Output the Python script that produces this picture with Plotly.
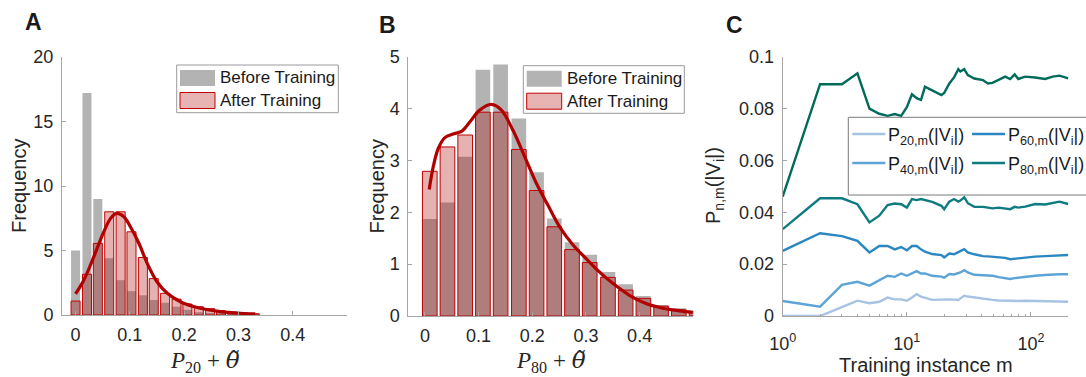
import plotly.graph_objects as go

W, H = 1086, 377

# ---------------- Panel A data ----------------
a_centers = [0.0, 0.021, 0.041, 0.062, 0.083, 0.103, 0.124, 0.144, 0.165, 0.186,
             0.206, 0.227, 0.248, 0.268, 0.289, 0.309, 0.330]
a_before = [5.0, 17.2, 9.0, 4.4, 2.7, 1.85, 1.53, 1.16, 0.95, 0.64,
            0.40, 0.22, 0.15, 0.08, 0.05, 0.03, 0.02]
a_after = [1.08, 3.16, 5.55, 8.0, 8.0, 6.45, 4.46, 2.82, 1.68, 1.23,
           0.85, 0.64, 0.49, 0.33, 0.23, 0.15, 0.10]
a_fit_x = [0.0, 0.0153, 0.0337, 0.0521, 0.0645, 0.0755, 0.089, 0.101, 0.1166, 0.132,
           0.150, 0.169, 0.193, 0.230, 0.267, 0.304, 0.331]
a_fit_y = [1.63, 2.71, 4.52, 6.46, 7.49, 7.88, 7.62, 6.84, 5.56, 4.0,
           2.58, 1.68, 1.03, 0.52, 0.26, 0.13, 0.08]

# ---------------- Panel B data ----------------
b_centers = [0.009, 0.042, 0.075, 0.108, 0.141, 0.175, 0.208, 0.241, 0.274, 0.307,
             0.341, 0.374, 0.407, 0.440, 0.473, 0.506]
b_before = [1.87, 2.19, 3.07, 4.75, 4.85, 3.81, 2.77, 1.88, 1.42, 1.18,
            0.85, 0.61, 0.385, 0.21, 0.15, 0.10]
b_after = [2.79, 3.26, 3.49, 3.93, 3.93, 3.21, 2.42, 1.72, 1.28, 1.03,
           0.745, 0.50, 0.34, 0.19, 0.12, 0.08]
b_fit_x = [0.008, 0.0155, 0.0248, 0.0372, 0.0526, 0.068, 0.0836, 0.102, 0.124, 0.1425,
           0.164, 0.186, 0.2076, 0.229, 0.251, 0.276, 0.300, 0.325, 0.350, 0.381,
           0.412, 0.443, 0.474, 0.499]
b_fit_y = [2.44, 2.88, 3.23, 3.44, 3.51, 3.56, 3.74, 3.97, 4.08, 3.97,
           3.58, 3.07, 2.56, 2.14, 1.72, 1.37, 1.11, 0.85, 0.63, 0.40,
           0.24, 0.15, 0.10, 0.07]

# ---------------- Panel C data ----------------
m_vals = [1, 2, 3, 4, 5, 6, 7, 8, 9, 10, 11, 12, 13, 14, 16, 19, 20, 22, 24, 26, 27, 29,
          31, 35, 41, 45, 49, 55, 62, 68, 74, 79, 90, 108, 130, 150, 170, 200]
p_top = [0.0460, 0.0894, 0.0894, 0.0936, 0.0800, 0.0780, 0.0772, 0.0779, 0.0772, 0.0805,
         0.0855, 0.0840, 0.0833, 0.0884, 0.0870, 0.0852, 0.0860, 0.0897, 0.0920, 0.0952,
         0.0943, 0.0952, 0.0929, 0.0916, 0.0910, 0.0897, 0.0899, 0.0910, 0.0923, 0.0914,
         0.0932, 0.0914, 0.0923, 0.0920, 0.0914, 0.0923, 0.0927, 0.0916]
p80 = [0.0335, 0.0454, 0.0454, 0.0431, 0.0361, 0.0387, 0.0428, 0.0434, 0.0431, 0.0418,
       0.0451, 0.0447, 0.0451, 0.0447, 0.0440, 0.0425, 0.0412, 0.0441, 0.0451, 0.0441,
       0.0445, 0.0458, 0.0435, 0.0421, 0.0421, 0.0418, 0.0415, 0.0418, 0.0416, 0.0412,
       0.0421, 0.0418, 0.0422, 0.0432, 0.0430, 0.0435, 0.0441, 0.0432]
p60 = [0.0251, 0.0319, 0.0308, 0.0290, 0.0245, 0.0270, 0.0270, 0.0257, 0.0266, 0.0253,
       0.0270, 0.0270, 0.0257, 0.0248, 0.0239, 0.0235, 0.0226, 0.0241, 0.0238, 0.0245,
       0.0250, 0.0258, 0.0245, 0.0238, 0.0231, 0.0230, 0.0229, 0.0226, 0.0224, 0.0219,
       0.0221, 0.0222, 0.0225, 0.0229, 0.0231, 0.0233, 0.0235, 0.0235]
p40 = [0.0058, 0.0036, 0.0120, 0.0132, 0.0117, 0.0139, 0.0155, 0.0151, 0.0164, 0.0155,
       0.0165, 0.0173, 0.0164, 0.0164, 0.0155, 0.0152, 0.0148, 0.0162, 0.0160, 0.0164,
       0.0168, 0.0177, 0.0168, 0.0159, 0.0157, 0.0156, 0.0155, 0.0150, 0.0146, 0.0143,
       0.0146, 0.0148, 0.0152, 0.0155, 0.0158, 0.0160, 0.0161, 0.0161]
p20 = [0.0, 0.0, 0.0034, 0.0059, 0.0049, 0.0055, 0.0071, 0.0064, 0.0064, 0.0059,
       0.0071, 0.0084, 0.0075, 0.0071, 0.0062, 0.0063, 0.0064, 0.0064, 0.0063, 0.0062,
       0.0068, 0.0078, 0.0075, 0.0071, 0.0066, 0.0063, 0.0062, 0.0060, 0.0059, 0.0058,
       0.0058, 0.0058, 0.0059, 0.0058, 0.0057, 0.0056, 0.0056, 0.0055]

legend_c_labels = ["P<sub>20,m</sub>(|V<sub>i</sub>|)", "P<sub>60,m</sub>(|V<sub>i</sub>|)",
                   "P<sub>40,m</sub>(|V<sub>i</sub>|)", "P<sub>80,m</sub>(|V<sub>i</sub>|)"]

# ---------------- styles ----------------
GRAY = "#b3b3b3"
RED_FILL = "rgba(170,0,0,0.3)"
RED_EDGE = "#c00000"
FIT = "#b00000"
C_TOP = "#006b5b"
C80 = "#0e7b80"
C60 = "#2b87c2"
C40 = "#5da4d6"
C20 = "#a6c3e3"
AXC = "#a6a6a6"
TXT = "#262626"
SANS = "Liberation Sans, Arial, sans-serif"
SERIF = "Liberation Serif, Times New Roman, serif"


def px(x):
    return x / W


def py(y):
    return 1 - y / H


fig = go.Figure()

# Panel A
fig.add_trace(go.Bar(x=a_centers, y=a_before, width=0.0166, marker=dict(color=GRAY, line=dict(width=0)),
                     xaxis="x", yaxis="y"))
fig.add_trace(go.Bar(x=a_centers, y=a_after, width=0.0166,
                     marker=dict(color=RED_FILL, line=dict(color=RED_EDGE, width=1)),
                     xaxis="x", yaxis="y"))
fig.add_trace(go.Scatter(x=a_fit_x, y=a_fit_y, mode="lines", line=dict(color=FIT, width=3.2, shape="spline"),
                         xaxis="x", yaxis="y"))

# Panel B
fig.add_trace(go.Bar(x=b_centers, y=b_before, width=0.0273, marker=dict(color=GRAY, line=dict(width=0)),
                     xaxis="x2", yaxis="y2"))
fig.add_trace(go.Bar(x=b_centers, y=b_after, width=0.0273,
                     marker=dict(color=RED_FILL, line=dict(color=RED_EDGE, width=1)),
                     xaxis="x2", yaxis="y2"))
fig.add_trace(go.Scatter(x=b_fit_x, y=b_fit_y, mode="lines", line=dict(color=FIT, width=3.2, shape="spline"),
                         xaxis="x2", yaxis="y2"))

# Panel C
for vals, col in [(p20, C20), (p40, C40), (p60, C60), (p80, C80), (p_top, C_TOP)]:
    fig.add_trace(go.Scatter(x=m_vals, y=vals, mode="lines", line=dict(color=col, width=2.4),
                             xaxis="x3", yaxis="y3"))

axis_common = dict(showline=True, linecolor=AXC, linewidth=1, ticks="inside", ticklen=4, tickcolor=AXC,
                   showgrid=False, zeroline=False, tickfont=dict(family=SANS, size=18, color=TXT),
                   mirror=False, automargin=False)

fig.update_layout(
    width=W, height=H, margin=dict(l=0, r=0, t=0, b=0, autoexpand=False),
    paper_bgcolor="white", plot_bgcolor="white", showlegend=False, barmode="overlay",
    font=dict(family=SANS, color=TXT),
    xaxis=dict(domain=[px(62), px(347)], range=[-0.025, 0.5], tickvals=[0, 0.1, 0.2, 0.3, 0.4],
               ticktext=["0", "0.1", "0.2", "0.3", "0.4"], anchor="y", ticklabelstandoff=3, **axis_common),
    yaxis=dict(domain=[py(315), py(57)], range=[0, 20], tickvals=[0, 5, 10, 15, 20], anchor="x",
               ticklabelstandoff=4, **axis_common),
    xaxis2=dict(domain=[px(408.3), px(693.3)], range=[-0.031, 0.5], tickvals=[0, 0.1, 0.2, 0.3, 0.4],
                ticktext=["0", "0.1", "0.2", "0.3", "0.4"], anchor="y2", ticklabelstandoff=3, **axis_common),
    yaxis2=dict(domain=[py(316), py(56.7)], range=[0, 5], tickvals=[0, 1, 2, 3, 4, 5], anchor="x2",
                ticklabelstandoff=4, **axis_common),
    xaxis3=dict(domain=[px(782.7), px(1068.3)], type="log", range=[0, 2.30103], tickvals=[1, 10, 100],
                ticktext=["10<sup>0</sup>", "10<sup>1</sup>", "10<sup>2</sup>"], anchor="y3",
                ticklabelstandoff=11,
                minor=dict(ticks="inside", ticklen=2.5, tickcolor=AXC,
                           tickvals=[2, 3, 4, 5, 6, 7, 8, 9, 20, 30, 40, 50, 60, 70, 80, 90, 200]),
                **axis_common),
    yaxis3=dict(domain=[py(316), py(56.7)], range=[0, 0.1], tickvals=[0, 0.02, 0.04, 0.06, 0.08, 0.1],
                ticktext=["0", "0.02", "0.04", "0.06", "0.08", "0.1"], anchor="x3",
                ticklabelstandoff=4, **axis_common),
)

ann = []
shapes = []

# Panel letters
for letter, x, y in [("A", 33, 22), ("B", 387, 25), ("C", 734, 25)]:
    ann.append(dict(text=f"<b>{letter}</b>", x=px(x), y=py(y), xref="paper", yref="paper",
                    showarrow=False, font=dict(family=SANS, size=23, color="#1a1a1a"),
                    xanchor="center", yanchor="middle"))

# Axis titles
ann.append(dict(text="Frequency", x=px(19), y=py(186), textangle=-90, xref="paper", yref="paper",
                showarrow=False, font=dict(family=SANS, size=20, color=TXT), xanchor="center", yanchor="middle"))
ann.append(dict(text="Frequency", x=px(376.5), y=py(186), textangle=-90, xref="paper", yref="paper",
                showarrow=False, font=dict(family=SANS, size=20, color=TXT), xanchor="center", yanchor="middle"))
ann.append(dict(text="P<sub>n,m</sub>(|V<sub>i</sub>|)", x=px(714), y=py(186), textangle=-90,
                xref="paper", yref="paper", showarrow=False, font=dict(family=SANS, size=20, color=TXT),
                xanchor="center", yanchor="middle"))

# x-titles: P_n + theta-tilde (combining tilde in a font with mark positioning)
for sub, cx in [("20", 204.5), ("80", 550.6)]:
    ann.append(dict(text=(f"<i>P</i><sub>{sub}</sub> + "
                          "<span style='font-family:DejaVu Serif'><i>θ\u0303</i></span>"),
                    x=px(cx), y=py(361), xref="paper", yref="paper", showarrow=False,
                    font=dict(family=SERIF, size=23, color=TXT), xanchor="center", yanchor="middle"))
ann.append(dict(text="Training instance m", x=px(925.5), y=py(365), xref="paper", yref="paper",
                showarrow=False, font=dict(family=SANS, size=20, color=TXT), xanchor="center", yanchor="middle"))

# Legends A and B
for (x0, y0, x1, y1), (sx0, sx1), tx in [((176.7, 65, 338.3, 112.7), (180, 215), 218),
                                        ((523.3, 65.7, 684.3, 113.3), (526.7, 561.7), 564.5)]:
    shapes.append(dict(type="rect", xref="paper", yref="paper", x0=px(x0), x1=px(x1), y0=py(y1), y1=py(y0),
                       line=dict(color="#9a9a9a", width=1), fillcolor="white", layer="above"))
    shapes.append(dict(type="rect", xref="paper", yref="paper", x0=px(sx0), x1=px(sx1), y0=py(y0 + 21),
                       y1=py(y0 + 5), line=dict(width=0), fillcolor=GRAY, layer="above"))
    shapes.append(dict(type="rect", xref="paper", yref="paper", x0=px(sx0), x1=px(sx1), y0=py(y0 + 43.5),
                       y1=py(y0 + 27.5), line=dict(color=RED_EDGE, width=1), fillcolor="#e8b3b3", layer="above"))
    ann.append(dict(text="Before Training", x=px(tx), y=py(y0 + 13), xref="paper", yref="paper",
                    showarrow=False, font=dict(family=SANS, size=17, color="#1a1a1a"),
                    xanchor="left", yanchor="middle"))
    ann.append(dict(text="After Training", x=px(tx), y=py(y0 + 35.5), xref="paper", yref="paper",
                    showarrow=False, font=dict(family=SANS, size=17, color="#1a1a1a"),
                    xanchor="left", yanchor="middle"))

# Legend C
shapes.append(dict(type="rect", xref="paper", yref="paper", x0=px(848.3), x1=px(1092), y0=py(195), y1=py(117.3),
                   line=dict(color="#7a7a7a", width=1), fillcolor="white", layer="above"))
for lab, col, lx0, ly in [(legend_c_labels[0], C20, 852.3, 134), (legend_c_labels[1], C60, 972, 134),
                          (legend_c_labels[2], C40, 852.3, 163), (legend_c_labels[3], C80, 972, 163)]:
    shapes.append(dict(type="line", xref="paper", yref="paper", x0=px(lx0), x1=px(lx0 + 33), y0=py(ly),
                       y1=py(ly), line=dict(color=col, width=2.4), layer="above"))
    ann.append(dict(text=lab, x=px(lx0 + 34), y=py(ly + 2), xref="paper", yref="paper", showarrow=False,
                    font=dict(family=SANS, size=18, color="#1a1a1a"), xanchor="left", yanchor="middle"))

fig.update_layout(annotations=ann, shapes=shapes)
fig.write_html("out.html")
